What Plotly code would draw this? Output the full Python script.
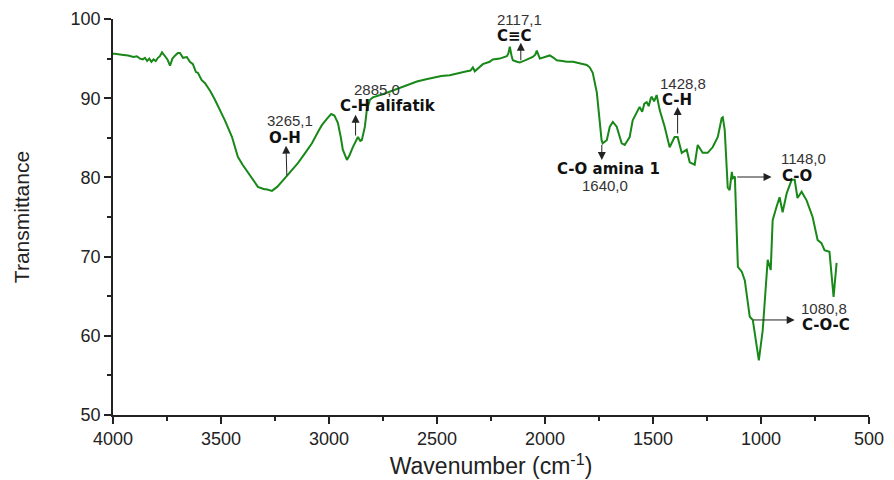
import plotly.graph_objects as go

# FTIR spectrum (wavenumber in cm-1, transmittance)
wavenumber = [
    4000, 3991, 3960, 3930, 3905, 3890, 3875, 3862, 3852, 3842, 3832, 3822, 3812, 3802,
    3792, 3783, 3773, 3760, 3748, 3736, 3725, 3712, 3700, 3690, 3676, 3658, 3644, 3630,
    3616, 3607, 3590, 3574, 3550, 3528, 3500, 3482, 3449, 3422, 3400, 3375, 3350, 3329,
    3300, 3290, 3264, 3240, 3204, 3170, 3144, 3110, 3079, 3050, 3033, 3010, 2990, 2975,
    2959, 2945, 2936, 2917, 2905, 2890, 2875, 2866, 2855, 2848, 2834, 2825, 2810, 2797,
    2751, 2700, 2672, 2630, 2593, 2550, 2519, 2480, 2441, 2400, 2362, 2345, 2334, 2325,
    2300, 2288, 2256, 2242, 2209, 2190, 2177, 2170, 2163, 2155, 2149, 2130, 2117, 2090,
    2070, 2057, 2045, 2038, 2024, 2000, 1978, 1960, 1946, 1920, 1899, 1870, 1853, 1830,
    1807, 1793, 1779, 1760, 1747, 1738, 1733, 1714, 1700, 1686, 1668, 1645, 1631, 1608,
    1594, 1580, 1570, 1562, 1550, 1540, 1529, 1520, 1510, 1506, 1495, 1483, 1469, 1446,
    1423, 1400, 1386, 1367, 1344, 1330, 1307, 1293, 1270, 1247, 1224, 1200, 1182, 1177,
    1168, 1154, 1145, 1135, 1131, 1121, 1107, 1089, 1075, 1052, 1038, 1029, 1010, 992,
    969, 955, 946, 928, 914, 900, 881, 858, 844, 831, 812, 789, 761, 738, 720, 706, 683,
    664, 650,
]
transmittance = [
    95.6, 95.6, 95.5, 95.4, 95.2, 95.3, 95.0, 94.9, 95.1, 94.7, 95.0, 94.6, 94.9, 94.7,
    95.1, 95.3, 95.8, 95.4, 94.9, 94.1, 95.0, 95.4, 95.7, 95.7, 95.1, 95.2, 94.6, 94.3,
    93.3, 93.2, 92.3, 91.9, 90.9, 89.8, 88.3, 87.2, 85.1, 82.6, 81.6, 80.6, 79.6, 78.8,
    78.5, 78.5, 78.3, 78.8, 79.9, 81.0, 81.8, 83.1, 84.3, 85.8, 86.6, 87.4, 88.0, 87.8,
    86.9, 85.0, 83.5, 82.2, 82.8, 83.8, 84.6, 85.1, 84.6, 84.7, 86.4, 88.5, 89.8, 90.1,
    90.5, 91.0, 91.3, 91.7, 92.1, 92.4, 92.6, 92.8, 92.9, 93.2, 93.4, 93.5, 93.9, 93.4,
    94.0, 94.3, 94.6, 94.9, 95.0, 95.2, 95.3, 95.6, 96.5, 95.4, 94.8, 94.6, 94.5, 94.8,
    95.0, 95.2, 95.5, 96.0, 95.0, 95.2, 95.4, 95.1, 94.8, 94.7, 94.6, 94.6, 94.5, 94.4,
    94.2, 93.9, 93.2, 90.7, 87.2, 84.7, 84.3, 84.7, 86.4, 87.0, 86.4, 84.3, 84.1, 85.1,
    87.2, 88.0, 88.6, 88.9, 88.3, 89.3, 89.5, 89.0, 90.0, 90.2, 89.6, 90.4, 88.5, 86.4,
    83.8, 85.1, 85.1, 83.1, 83.5, 81.9, 81.6, 84.1, 83.1, 83.1, 83.8, 85.1, 87.5, 87.6,
    86.0, 78.7, 78.4, 80.7, 79.9, 80.1, 68.7, 68.1, 67.0, 62.4, 62.0, 60.4, 56.9, 60.7,
    69.6, 68.3, 74.6, 76.3, 77.5, 75.6, 78.0, 79.7, 79.7, 77.4, 78.2, 77.1, 75.0, 72.1,
    71.7, 70.8, 70.6, 64.9, 69.2,
]

# annotation arrows: (x_head, y_head, x_tail, y_tail)
arrow_x_head = [3199, 2877, 2112, 1737, 1386, 951, 844]
arrow_y_head = [84.0, 87.9, 97.0, 82.2, 88.9, 80.05, 62.0]
arrow_x_tail = [3195, 2877, 2112, 1737, 1386, 1117, 1043]
arrow_y_tail = [80.05, 85.1, 94.6, 84.3, 85.35, 80.05, 62.0]

# peak numbers (regular) and band names (bold)
peak_labels = ["3265,1", "2885,0", "2117,1", "1640,0", "1428,8", "1148,0", "1080,8"]
peak_x = [3181, 2778, 2117, 1724, 1363, 803, 710]
peak_y = [87.2, 91.1, 99.9, 79.0, 91.8, 82.4, 63.4]
band_labels = ["O-H", "C-H alifatik", "C≡C", "C-O amina 1", "C-H", "C-O", "C-O-C"]
band_x = [3204, 2728, 2140, 1705, 1390, 835, 701]
band_y = [85.0, 89.0, 97.85, 81.0, 89.8, 80.2, 61.4]

FONT = "Liberation Sans, Arial, sans-serif"
BOLD_FONT = "DejaVu Sans, Liberation Sans, sans-serif"

fig = go.Figure()
fig.add_trace(go.Scatter(
    x=wavenumber, y=transmittance, mode="lines",
    line=dict(color="rgb(24,136,24)", width=2), showlegend=False,
    hoverinfo="skip",
))

for xh, yh, xt, yt in zip(arrow_x_head, arrow_y_head, arrow_x_tail, arrow_y_tail):
    fig.add_annotation(
        x=xh, y=yh, ax=xt, ay=yt, xref="x", yref="y", axref="x", ayref="y",
        text="", showarrow=True, arrowhead=2, arrowsize=1.6, arrowwidth=1,
        arrowcolor="#222222",
    )

for t, x, y in zip(peak_labels, peak_x, peak_y):
    fig.add_annotation(x=x, y=y, xref="x", yref="y", text=t, showarrow=False,
                       font=dict(family=FONT, size=15, color="#333333"))

for t, x, y in zip(band_labels, band_x, band_y):
    fig.add_annotation(x=x, y=y, xref="x", yref="y", text="<b>" + t + "</b>",
                       showarrow=False,
                       font=dict(family=BOLD_FONT, size=15, color="#111111"))

fig.update_layout(
    width=894, height=480,
    margin=dict(l=105, r=33, t=11, b=73, autoexpand=False),
    paper_bgcolor="white", plot_bgcolor="white",
    font=dict(family=FONT, color="#222222"),
    xaxis=dict(
        range=[4000, 500], tickvals=[4000, 3500, 3000, 2500, 2000, 1500, 1000, 500],
        automargin=False,
        showgrid=False, zeroline=False, showline=True, linecolor="#222222", linewidth=1.5,
        ticks="outside", ticklen=7, tickwidth=1.5, tickcolor="#222222",
        tickfont=dict(size=18, family=FONT, color="#222222"),
        minor=dict(ticks="outside", dtick=250, tick0=500, ticklen=4, tickwidth=1.5,
                   tickcolor="#222222", showgrid=False),
        title=dict(text="Wavenumber (cm<sup>-1</sup>)", standoff=10,
                   font=dict(size=23, family=FONT, color="#222222")),
    ),
    yaxis=dict(
        range=[50, 100], tickvals=[50, 60, 70, 80, 90, 100],
        automargin=False,
        showgrid=False, zeroline=False, showline=True, linecolor="#222222", linewidth=1.5,
        ticks="outside", ticklen=7, tickwidth=1.5, tickcolor="#222222",
        tickfont=dict(size=18, family=FONT, color="#222222"),
        minor=dict(ticks="outside", dtick=5, tick0=50, ticklen=4, tickwidth=1.5,
                   tickcolor="#222222", showgrid=False),
        title=dict(text="Transmittance", standoff=35,
                   font=dict(size=21, family=FONT, color="#222222")),
    ),
)

fig.write_html("out.html")
